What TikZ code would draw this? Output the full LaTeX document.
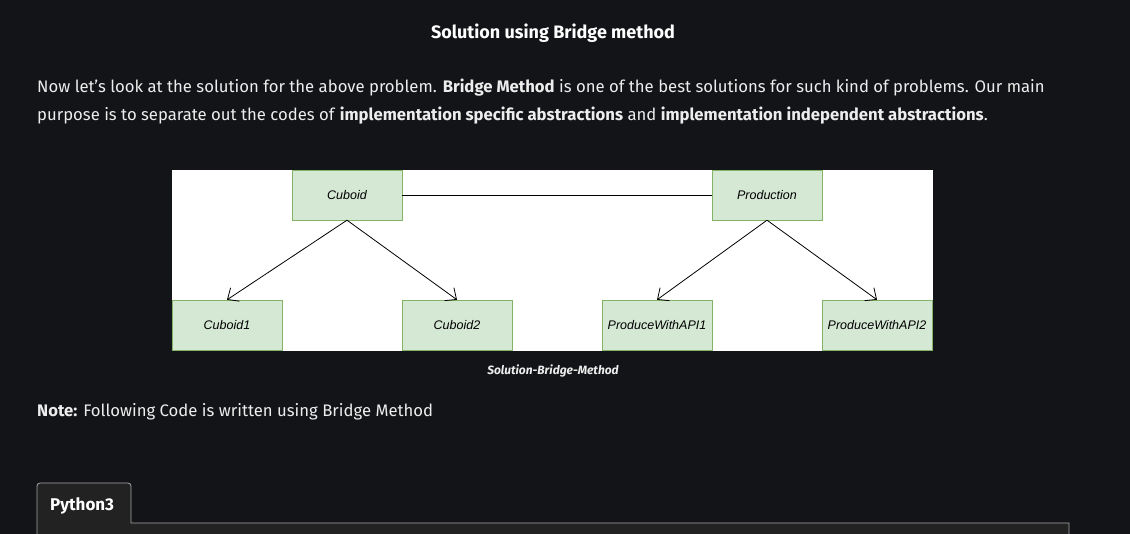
\documentclass[tikz,border=0pt]{standalone}
\usepackage{fontspec}
\setmainfont{Fira Sans}
\newfontfamily\drawiofont{Liberation Sans}
\usetikzlibrary{arrows.meta,positioning}

\definecolor{pagebg}{HTML}{131417}
\definecolor{tabbg}{HTML}{222222}
\definecolor{classfill}{HTML}{D5E8D4}
\definecolor{classline}{HTML}{82B366}
\definecolor{bodytext}{HTML}{EDEDED}

\tikzset{
  classbox/.style={draw=classline,fill=classfill,minimum width=110pt,minimum height=50pt,
    inner sep=0pt,font=\drawiofont\itshape\fontsize{12.5}{15}\selectfont,text=black},
  arr/.style={-{Straight Barb[length=9pt,width=16pt]},line width=0.8pt,black},
  para/.style={anchor=base west,inner sep=0pt,text=bodytext,font=\fontsize{16.7}{20}\selectfont}
}

\begin{document}
\begin{tikzpicture}[x=1pt,y=-1pt]
\fill[pagebg] (0,0) rectangle (1130,534);
\useasboundingbox (0,0) rectangle (1130,534);
% heading and text
\node[text=white,font=\bfseries\fontsize{18}{22}\selectfont] (title) at (553,33) {Solution using Bridge method};
\node[para] (line1) at (37,93) {Now let's look at the solution for the above problem. \textbf{Bridge Method} is one of the best solutions for such kind of problems. Our main};
\node[para] (line2) at (37,121) {purpose is to separate out the codes of \textbf{implementation specific abstractions} and \textbf{implementation independent abstractions}.};
% diagram
\fill[white] (172,170) rectangle (933,351);
\node[classbox] (cub) at (347,195) {Cuboid};
\node[classbox] (prod) at (767,195) {Production};
\node[classbox] (cub1) at (227,325) {Cuboid1};
\node[classbox] (cub2) at (457,325) {Cuboid2};
\node[classbox] (api1) at (657,325) {ProduceWithAPI1};
\node[classbox] (api2) at (877,325) {ProduceWithAPI2};
\draw[line width=0.8pt] (cub) -- (prod);
\draw[arr] (cub.south) -- (cub1.north);
\draw[arr] (cub.south) -- (cub2.north);
\draw[arr] (prod.south) -- (api1.north);
\draw[arr] (prod.south) -- (api2.north);
\node[text=bodytext,font=\bfseries\itshape\fontsize{12}{14}\selectfont] (caption) at (553,371) {Solution-Bridge-Method};
% note
\node[para] (note) at (37,417) {\textbf{Note:} Following Code is written using Bridge Method};
% code tab
\fill[tabbg] (37,534) -- (37,486) [rounded corners=3pt] -- (37,483) -- (131,483) [sharp corners] -- (131,523) -- (1069,523) -- (1069,534) -- cycle;
\draw[gray!70,line width=0.8pt,rounded corners=3pt] (37,534) -- (37,483) -- (131,483) [sharp corners] -- (131,523) -- (1069,523) -- (1069,534);
\node[text=white,font=\bfseries\fontsize{17}{20}\selectfont,anchor=base west,inner sep=0pt] (tab) at (50,510) {Python3};
\end{tikzpicture}
\end{document}
